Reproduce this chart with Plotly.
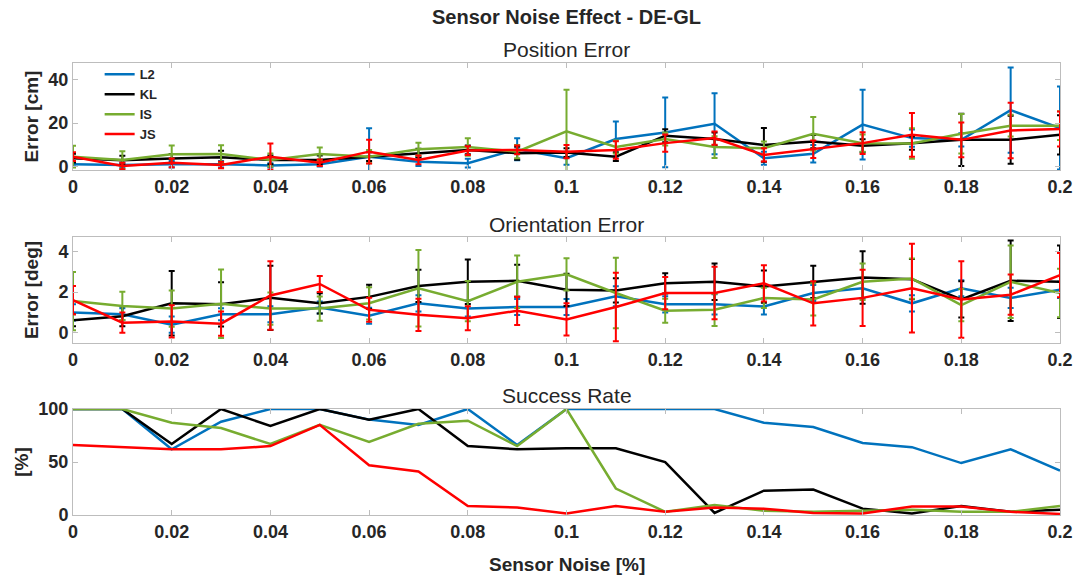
import plotly.graph_objects as go

noise = [0, 0.01, 0.02, 0.03, 0.04, 0.05, 0.06, 0.07, 0.08, 0.09, 0.10,
         0.11, 0.12, 0.13, 0.14, 0.15, 0.16, 0.17, 0.18, 0.19, 0.20]
series_names = ["L2", "KL", "IS", "JS"]
colors = ["#0072BD", "#000000", "#77AC30", "#FF0000"]

# Position error [cm]
pos_L2 = [1.1, 0.8, 1.1, 1.1, 0.6, 1.1, 4.6, 2.3, 1.6, 8.0, 3.9, 12.7, 15.7, 19.7, 3.9, 5.9, 19.3, 13.1, 12.3, 25.9, 17.7]
pos_KL = [3.9, 3.0, 3.8, 4.3, 3.1, 3.1, 4.6, 6.2, 7.7, 6.2, 6.5, 4.6, 14.2, 12.7, 10.0, 11.5, 9.6, 10.8, 12.3, 12.3, 14.6]
pos_IS = [4.6, 3.1, 5.7, 5.8, 3.1, 5.8, 4.6, 8.0, 9.0, 6.9, 16.2, 9.0, 12.7, 9.0, 8.5, 15.1, 10.8, 10.6, 15.1, 18.8, 18.8]
pos_JS = [4.6, 0.3, 1.8, 0.8, 4.6, 1.8, 6.9, 3.1, 7.4, 7.7, 6.9, 7.7, 10.8, 13.1, 5.4, 8.0, 10.8, 14.6, 12.3, 16.6, 17.3]
pos_L2_err = [1, 1, 1.5, 1.5, 1, 1, 13, 2, 2, 5, 3, 8, 16, 14, 3, 4, 16, 4, 3, 19.5, 19]
pos_KL_err = [2, 2, 2, 3, 2, 2, 2, 2, 2, 3, 2, 2, 3, 3, 7.7, 3, 3, 3, 12, 11, 9]
pos_IS_err = [5, 4, 4, 4, 3, 3, 3, 3, 4, 3, 19, 3, 3, 5, 3, 7.7, 4, 7, 9, 5, 6.6]
pos_JS_err = [2, 1.5, 2, 1.5, 6, 1.5, 5.4, 2, 2, 2, 3, 4, 4, 3, 3, 4, 5, 10, 8, 12.7, 8]

# Orientation error [deg]
ori_L2 = [0.99, 0.90, 0.38, 0.90, 0.90, 1.23, 0.82, 1.44, 1.18, 1.26, 1.26, 1.79, 1.39, 1.39, 1.28, 1.95, 2.19, 1.44, 2.19, 1.71, 2.11]
ori_KL = [0.60, 0.80, 1.44, 1.39, 1.71, 1.44, 1.76, 2.30, 2.51, 2.56, 2.11, 2.08, 2.43, 2.51, 2.27, 2.51, 2.72, 2.64, 1.63, 2.56, 2.51]
ori_IS = [1.55, 1.31, 1.18, 1.42, 1.18, 1.18, 1.44, 2.19, 1.55, 2.51, 2.88, 1.95, 1.07, 1.12, 1.71, 1.63, 2.51, 2.67, 1.35, 2.51, 1.95]
ori_JS = [1.60, 0.48, 0.54, 0.43, 1.83, 2.40, 1.12, 0.87, 0.70, 1.07, 0.64, 1.26, 1.95, 1.95, 2.43, 1.44, 1.71, 2.19, 1.63, 1.87, 2.84]
ori_L2_err = [0.4, 0.3, 0.4, 0.3, 0.4, 0.3, 0.4, 0.4, 0.4, 0.4, 0.4, 0.5, 0.4, 0.5, 0.4, 0.4, 0.5, 0.4, 0.4, 0.5, 0.4]
ori_KL_err = [0.3, 0.5, 1.6, 1.1, 1.6, 0.5, 0.6, 0.8, 1.1, 0.8, 0.8, 0.6, 0.5, 0.9, 0.8, 0.8, 1.3, 1.0, 0.9, 2.0, 1.8]
ori_IS_err = [1.45, 0.7, 0.9, 1.7, 0.8, 0.6, 0.8, 1.9, 1.0, 1.3, 0.8, 1.75, 0.6, 0.8, 0.5, 0.8, 0.9, 1.0, 0.8, 1.8, 1.2]
ori_JS_err = [0.7, 0.5, 0.8, 0.6, 1.7, 0.4, 0.6, 0.8, 0.6, 0.7, 0.8, 1.7, 0.8, 1.3, 0.9, 1.1, 1.4, 2.2, 1.9, 1.0, 1.1]

# Success rate [%]
succ_L2 = [100, 100, 62, 88, 100, 100, 90, 85, 100, 66, 100, 100, 100, 100, 87, 83, 68, 64, 49, 62, 42]
succ_KL = [100, 100, 67, 100, 84, 100, 90, 100, 65, 62, 63, 63, 50, 2, 23, 24, 6, 1.5, 8.5, 3, 5]
succ_IS = [100, 100, 87, 82, 67, 85, 69, 86, 89, 65, 100, 25, 3, 9.5, 4, 3, 4, 5, 3, 3, 8.5]
succ_JS = [66, 64, 62, 62, 65, 85, 47, 41, 8.5, 7, 1.5, 8.5, 3, 7, 6, 2, 1.5, 8, 8, 3, 1]

pos = [pos_L2, pos_KL, pos_IS, pos_JS]
pos_err = [pos_L2_err, pos_KL_err, pos_IS_err, pos_JS_err]
ori = [ori_L2, ori_KL, ori_IS, ori_JS]
ori_err = [ori_L2_err, ori_KL_err, ori_IS_err, ori_JS_err]
succ = [succ_L2, succ_KL, succ_IS, succ_JS]

xtick_vals = [0, 0.02, 0.04, 0.06, 0.08, 0.10, 0.12, 0.14, 0.16, 0.18, 0.20]
xtick_text = ["0", "0.02", "0.04", "0.06", "0.08", "0.1", "0.12", "0.14", "0.16", "0.18", "0.2"]

fig = go.Figure()
for k in range(4):
    fig.add_trace(go.Scatter(
        x=noise, y=pos[k], mode="lines", name="<b>" + series_names[k] + "</b>",
        line=dict(color=colors[k], width=2.5),
        error_y=dict(type="data", array=pos_err[k], color=colors[k], thickness=2, width=3),
        xaxis="x", yaxis="y", legendgroup=series_names[k]))
for k in range(4):
    fig.add_trace(go.Scatter(
        x=noise, y=ori[k], mode="lines", name=series_names[k], showlegend=False,
        line=dict(color=colors[k], width=2.5),
        error_y=dict(type="data", array=ori_err[k], color=colors[k], thickness=2, width=3),
        xaxis="x2", yaxis="y2", legendgroup=series_names[k]))
for k in range(4):
    fig.add_trace(go.Scatter(
        x=noise, y=succ[k], mode="lines", name=series_names[k], showlegend=False,
        line=dict(color=colors[k], width=2.5),
        xaxis="x3", yaxis="y3", legendgroup=series_names[k]))

ink = "#262626"
tickfont = dict(family="Arial", size=18, color=ink)
labfont = dict(family="Arial", size=19, color=ink)
axcommon = dict(showgrid=False, zeroline=False, showline=True, linecolor="#BDBDBD",
                linewidth=1, mirror="ticks", ticks="inside", ticklen=5, tickcolor="#BDBDBD",
                tickfont=tickfont)
bold_xt = ["<b>" + t + "</b>" for t in xtick_text]
xcommon = dict(axcommon, range=[0, 0.2], tickvals=xtick_vals, ticktext=bold_xt,
               domain=[0, 1])

fig.update_layout(
    width=1085, height=579,
    margin=dict(l=73, r=19, t=63, b=64),
    paper_bgcolor="white", plot_bgcolor="white",
    showlegend=True,
    legend=dict(x=0.027, y=1.008, xanchor="left", yanchor="top", bgcolor="rgba(0,0,0,0)",
                font=dict(family="Arial", size=13, color=ink), tracegroupgap=0,
                itemwidth=30),
    xaxis=dict(xcommon, anchor="y"),
    xaxis2=dict(xcommon, anchor="y2"),
    xaxis3=dict(xcommon, anchor="y3"),
    yaxis=dict(axcommon, domain=[0.7633, 1.0], range=[-1.5, 47.5], tickvals=[0, 20, 40],
               ticktext=["<b>0</b>", "<b>20</b>", "<b>40</b>"], anchor="x",
               title=dict(text="<b>Error [cm]</b>", font=labfont, standoff=4)),
    yaxis2=dict(axcommon, domain=[0.3805, 0.6150], range=[-0.53, 4.73], tickvals=[0, 2, 4],
                ticktext=["<b>0</b>", "<b>2</b>", "<b>4</b>"], anchor="x2",
                title=dict(text="<b>Error [deg]</b>", font=labfont, standoff=14)),
    yaxis3=dict(axcommon, domain=[0, 0.2345], range=[0, 100], tickvals=[0, 50, 100],
                ticktext=["<b>0</b>", "<b>50</b>", "<b>100</b>"], anchor="x3",
                title=dict(text="<b>[%]</b>", font=labfont, standoff=4)),
)

ann = [
    dict(text="<b>Sensor Noise Effect - DE-GL</b>", y=17, size=20),
    dict(text="Position Error", y=49, size=21),
    dict(text="Orientation Error", y=224, size=21),
    dict(text="Success Rate", y=395, size=21),
    dict(text="<b>Sensor Noise [%]</b>", y=564, size=19),
]
for a in ann:
    fig.add_annotation(text=a["text"], xref="paper", x=0.5, yref="paper",
                       y=(515 - a["y"]) / 452, showarrow=False, xanchor="center", yanchor="middle",
                       font=dict(family="Arial", size=a["size"], color=ink))

fig.write_html("out.html")
